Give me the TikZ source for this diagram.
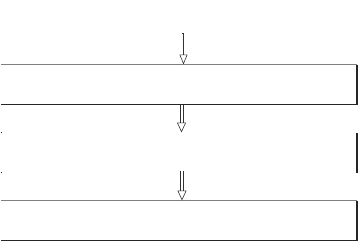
\documentclass[tikz,border=0pt]{standalone}
\usetikzlibrary{arrows.meta}
\begin{document}
\begin{tikzpicture}[x=1pt,y=-1pt,
  stagebox/.style={minimum width=356pt,minimum height=40pt,inner sep=0pt,outer sep=0pt},
  edgelit/.style={draw=black!50,line width=1.2pt},
  edgedark/.style={draw=black!85,line width=1.2pt},
  flow/.style={draw=black!80,line width=0.6pt,-{Triangle[open,length=10pt,width=8pt]}},
  tiponly/.style={draw=white,line width=0.6pt,
    -{Triangle[open,length=10pt,width=9pt,color=black!80]}},
  rail/.style={draw=black!80,line width=0.7pt}]
  \useasboundingbox (0,0) rectangle (360,247);
  % three stages
  \node[stagebox] (s1) at (179,84.5) {};
  \node[stagebox] (s2) at (179,152.5) {};
  \node[stagebox] (s3) at (179,220.5) {};
  % outlines: light top, dark right and bottom
  \foreach \b in {s1,s3}{
    \draw[edgelit] (\b.north west) -- (\b.north east);
    \draw[edgedark] (\b.north east) -- (\b.south east) -- (\b.south west);
  }
  \draw[edgedark] (s2.north east) -- (s2.south east);
  \draw[edgedark] (s2.north west) -- ++(1.5,0);
  \draw[edgedark] (s2.south west) -- ++(1.5,0);
  % entry point
  \coordinate (in) at (183.5,33);
  \draw[black!80,line width=0.6pt] (in) -- ++(-1.8,0);
  % connectors
  \draw[flow] (in) -- (in |- s1.north);
  % double-railed connectors: open head plus two parallel rails
  \coordinate (a2) at ([xshift=2.5pt]s1.south);
  \coordinate (b2) at ([xshift=2.5pt]s2.north);
  \draw[tiponly] (a2) -- (b2);
  \draw[rail] ([xshift=-1.4pt]a2) -- ([xshift=-1.4pt,yshift=10pt]b2);
  \draw[rail] ([xshift=1.4pt]a2) -- ([xshift=1.4pt,yshift=10pt]b2);
  \coordinate (a3) at ([xshift=3pt,yshift=2pt]s2.south);
  \coordinate (b3) at ([xshift=3pt]s3.north);
  \draw[tiponly] (a3) -- (b3);
  \draw[rail] ([xshift=-1.4pt]a3) -- ([xshift=-1.4pt,yshift=10pt]b3);
  \draw[rail] ([xshift=1.4pt]a3) -- ([xshift=1.4pt,yshift=10pt]b3);
\end{tikzpicture}
\end{document}
